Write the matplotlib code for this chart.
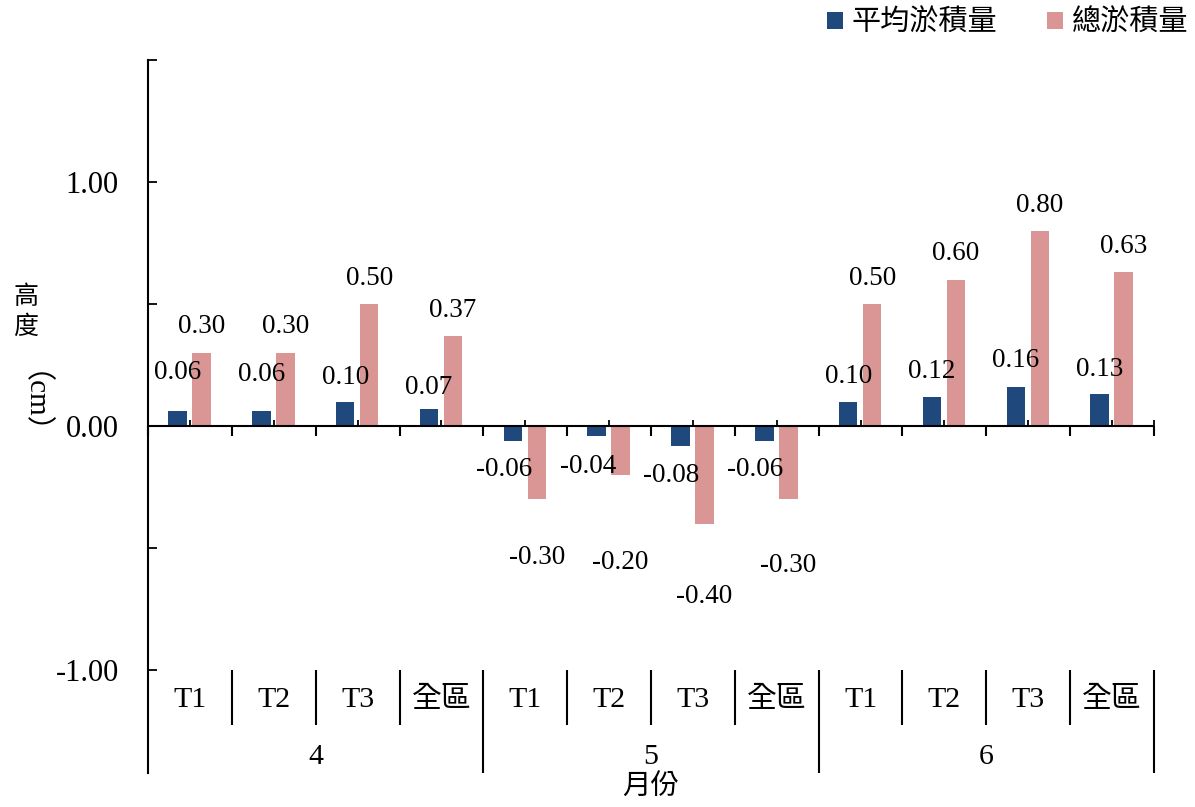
import numpy as np
import matplotlib
matplotlib.use("Agg")
import matplotlib.pyplot as plt

plt.rcParams['font.family'] = ['Liberation Serif', 'Noto Sans CJK TC']

# data
categories = ['T1', 'T2', 'T3', '全區'] * 3
months = ['4', '5', '6']
avg_dep = [0.06, 0.06, 0.10, 0.07, -0.06, -0.04, -0.08, -0.06, 0.10, 0.12, 0.16, 0.13]
total_dep = [0.30, 0.30, 0.50, 0.37, -0.30, -0.20, -0.40, -0.30, 0.50, 0.60, 0.80, 0.63]
series_names = ['平均淤積量', '總淤積量']

blue = '#1F497D'
pink = '#D99694'

fig = plt.figure(figsize=(11.95, 8.07), dpi=100)
W, H = 1195, 807
ax = fig.add_axes([148 / W, 1 - 773 / H, (1154 - 148) / W, (773 - 60) / H])

x = np.arange(len(categories))
ax.set_xlim(-0.5, len(categories) - 0.5)
ax.set_ylim(-1.4221, 1.5)

bw = 0.22
b1 = ax.bar(x - 0.148, avg_dep, bw, color=blue, zorder=2)
b2 = ax.bar(x + 0.138, total_dep, bw, color=pink, zorder=2)

# data labels (pixel offsets from bar end, hand-placed like the original)
avg_dy = [39, 37, 24, 21, -29, -31, -30, -29, 25, 25, 26, 25]
tot_dy = [26, 26, 26, 25, -58, -88, -73, -66, 26, 26, 25, 26]
for i, v in enumerate(avg_dep):
    dx = -9 if v < 0 else 0
    ax.annotate(f"{v:.2f}", xy=(x[i] - 0.148, v), xytext=(dx, avg_dy[i]),
                textcoords='offset pixels', ha='center', va='center', fontsize=19.5)
for i, v in enumerate(total_dep):
    ax.annotate(f"{v:.2f}", xy=(x[i] + 0.138, v), xytext=(0, tot_dy[i]),
                textcoords='offset pixels', ha='center', va='center', fontsize=19.5)

# axes styling
for s in ['top', 'right', 'bottom']:
    ax.spines[s].set_visible(False)
ax.spines['left'].set_linewidth(1.5)
ax.set_yticks([-1, -0.5, 0, 0.5, 1, 1.5])
ax.set_yticklabels(['-1.00', '', '0.00', '', '1.00', ''], fontsize=22)
ax.tick_params(axis='y', direction='in', length=6.5, width=1.3, pad=21)
ax.set_xticks([])

# zero line with category ticks
ax.axhline(0, color='black', lw=1.5, zorder=3)
bounds = np.arange(len(categories) + 1) - 0.5
ax.plot(bounds, np.zeros_like(bounds), ls='none', marker=3, ms=7, mew=1.5,
        color='black', clip_on=False, zorder=3)
ax.plot(np.append(x, bounds[-1]), np.zeros(len(x) + 1), ls='none', marker=2, ms=4.5,
        mew=1.3, color='black', clip_on=False, zorder=3)

# multi-level category labels below the plot
inner = [b for b in bounds[1:] if (b + 0.5) % 4 != 0]
group = [b for b in bounds[1:] if (b + 0.5) % 4 == 0]
ax.vlines(inner, -1.224, -1.0, color='black', lw=1.5, clip_on=False)
ax.vlines(group, -1.4221, -1.0, color='black', lw=1.5, clip_on=False)
for i, c in enumerate(categories):
    ax.text(x[i], -1.122, c, ha='center', va='center', fontsize=21.5)
for j, m in enumerate(months):
    ax.text(4 * j + 1.5, -1.355, m, ha='center', va='center', fontsize=21.5)
ax.text(5.5, -1.479, '月份', ha='center', va='center', fontsize=20.5,
        family='Noto Sans CJK TC', clip_on=False)

# y label, written vertically: 高度（cm）
cjk = 'Noto Sans CJK TC'
fig.text(26 / W, 1 - 312 / H, '高\n度', ha='center', va='center', fontsize=18,
         linespacing=1.15, family=cjk)
fig.text(17 / W, 1 - 418 / H, '（cm）', ha='center', va='center', fontsize=21,
         rotation=270, rotation_mode='anchor', family=['Liberation Serif', cjk])

ax.legend([b1, b2], series_names, loc='upper right', bbox_to_anchor=(1188 / W, 1 - 8 / H),
          bbox_transform=fig.transFigure, ncol=2, frameon=False, handlelength=0.55,
          handleheight=0.55, handletextpad=0.3, columnspacing=1.7, borderpad=0,
          borderaxespad=0, prop={'family': cjk, 'size': 21})

fig.savefig('out.png', dpi=100)
